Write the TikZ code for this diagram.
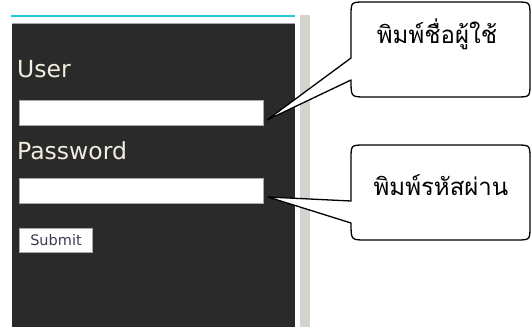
\documentclass[tikz,border=0pt]{standalone}
\usepackage{fontspec}
\newfontfamily\thaifont[Script=Thai]{Loma}
\newfontfamily\uifont{DejaVu Sans}
\definecolor{panelcol}{HTML}{2A2A2A}
\definecolor{stripcol}{HTML}{D4D4CE}
\definecolor{cyancol}{HTML}{1EC8E0}
\definecolor{labelcol}{HTML}{F2EEDF}
\definecolor{fieldborder}{HTML}{A8A8A8}
\definecolor{btntext}{HTML}{3C3C50}
\begin{document}
\begin{tikzpicture}[x=1pt,y=-1pt,
  field/.style={draw=fieldborder, fill=white, line width=1pt, inner sep=0pt, anchor=north west},
  lbl/.style={text=labelcol, font=\uifont\fontsize{23.5}{24}\selectfont, anchor=base west, inner sep=0pt},
  cbox/.style={draw=black, line width=1.3pt, fill=white, line join=round},
  ctext/.style={font=\thaifont\fontsize{24}{28}\selectfont, anchor=base, inner sep=0pt}]
\useasboundingbox (0,0) rectangle (532,327);
\fill[white] (0,0) rectangle (532,327);
\fill[stripcol] (300,15) rectangle (310,327);
\fill[panelcol] (12,23) rectangle (295,327);
\draw[gray!70, line width=0.8pt] (12,23.4) -- (295,23.4);
\fill[cyancol] (11,15) rectangle (295,17.2);
\node[lbl] (user) at (17,77) {User};
\node[lbl] (pass) at (17,159.5) {Password};
\node[field, minimum width=244pt, minimum height=25pt] (ubox) at (19,100) {};
\node[field, minimum width=244pt, minimum height=25pt] (pbox) at (19,178) {};
\node[field, minimum width=73pt, minimum height=24pt, text=btntext,
      font=\uifont\fontsize{14.5}{15}\selectfont] (submit) at (19,228) {Submit};
\coordinate (t1) at (267,120);
\coordinate (t2) at (268,197);
\draw[cbox] (351,58) -- (t1) -- (351,80) .. controls (351,97) .. (366,97)
  -- (516,97) .. controls (530,97) .. (530,83) -- (530,16)
  .. controls (530,2) .. (516,2) -- (365,2) .. controls (351,2) .. (351,16) -- cycle;
\draw[cbox] (351,201) -- (t2) -- (351,223) .. controls (351,240) .. (366,240)
  -- (516,240) .. controls (530,240) .. (530,226) -- (530,159)
  .. controls (530,145) .. (516,145) -- (365,145) .. controls (351,145) .. (351,159) -- cycle;
\node[ctext] (c1) at (437,43) {พิมพ์ชื่อผู้ใช้};
\node[ctext] (c2) at (441,195) {พิมพ์รหัสผ่าน};
\end{tikzpicture}
\end{document}
